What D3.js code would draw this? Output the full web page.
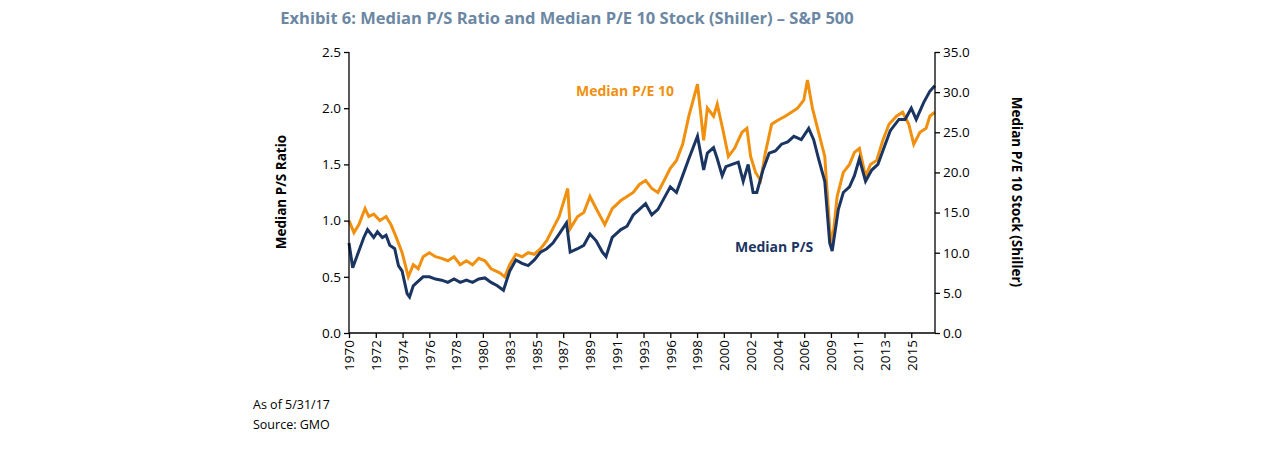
<!DOCTYPE html><html><head><meta charset="utf-8"><script src="https://d3js.org/d3.v7.min.js"></script>
<style>body{margin:0;background:#fff;font-family:"Open Sans",sans-serif}</style></head><body><svg id="c" width="1275" height="449"></svg>
<script>
const psYears=[1970.0,1970.3,1970.7,1971.2,1971.5,1972.0,1972.3,1972.7,1973.0,1973.3,1973.7,1974.0,1974.3,1974.7,1974.9,1975.2,1975.5,1976.0,1976.5,1977,1977.5,1978,1978.5,1979,1979.5,1980,1980.5,1981,1981.5,1982.0,1982.5,1983.0,1983.5,1984.0,1984.5,1985.0,1985.5,1986.0,1986.5,1987.0,1987.6,1987.9,1988.5,1989.0,1989.5,1990.0,1990.5,1990.8,1991.3,1992,1992.5,1993,1993.5,1994,1994.5,1995,1995.5,1996,1996.5,1997,1997.5,1998.2,1998.7,1999.0,1999.5,1999.8,2000.2,2000.5,2001.0,2001.5,2001.9,2002.3,2002.7,2003.0,2003.5,2004.0,2004.5,2005.0,2005.5,2006.0,2006.6,2007.2,2007.6,2008.0,2008.5,2008.9,2009.1,2009.6,2010.0,2010.5,2010.9,2011.3,2011.8,2012.3,2012.8,2013.3,2013.8,2014.5,2015.0,2015.5,2015.9,2016.5,2017.0,2017.4];
const psValues=[0.8,0.58,0.7,0.85,0.92,0.85,0.9,0.85,0.87,0.78,0.75,0.6,0.55,0.35,0.32,0.42,0.45,0.5,0.5,0.48,0.47,0.45,0.48,0.45,0.47,0.45,0.48,0.49,0.45,0.42,0.38,0.55,0.65,0.62,0.6,0.65,0.72,0.75,0.8,0.88,0.98,0.72,0.75,0.78,0.88,0.82,0.72,0.68,0.85,0.92,0.95,1.05,1.1,1.15,1.05,1.1,1.2,1.3,1.25,1.4,1.55,1.75,1.45,1.6,1.65,1.55,1.4,1.48,1.5,1.52,1.35,1.5,1.25,1.25,1.45,1.6,1.62,1.68,1.7,1.75,1.72,1.82,1.72,1.55,1.35,0.8,0.73,1.1,1.25,1.3,1.4,1.55,1.35,1.45,1.5,1.65,1.8,1.9,1.9,2.0,1.9,2.05,2.15,2.2];
const peYears=[1970.0,1970.4,1970.8,1971.3,1971.6,1972.0,1972.5,1973.0,1973.4,1973.8,1974.3,1974.8,1975.2,1975.6,1976.0,1976.5,1977,1977.5,1978,1978.5,1979,1979.5,1980.0,1980.5,1981.0,1981.5,1982.2,1982.6,1983.0,1983.5,1984,1984.5,1985,1985.5,1986,1986.5,1987.0,1987.7,1987.9,1988.5,1989.0,1989.5,1990.0,1990.7,1991.3,1992,1993,1993.5,1994,1994.5,1995,1995.5,1996,1996.5,1997,1997.5,1998.2,1998.7,1999.0,1999.5,1999.8,2000.3,2000.7,2001.2,2001.8,2002.2,2002.5,2002.9,2003.3,2003.7,2004.2,2004.7,2005.3,2005.8,2006.3,2006.8,2007.1,2007.5,2008.0,2008.5,2008.9,2009.1,2009.5,2010.0,2010.5,2010.9,2011.3,2011.8,2012.2,2012.7,2013.2,2013.7,2014.3,2014.8,2015.3,2015.7,2016.2,2016.7,2017.0,2017.4];
const peValues=[14,12.5,13.5,15.5,14.5,14.8,14,14.5,13.5,12,10,7,8.5,8,9.5,10,9.5,9.3,9,9.5,8.5,9,8.5,9.3,9,8,7.5,7,8.5,9.8,9.5,10,9.8,10.5,11.5,13,14.5,18,13,14.5,15,17,15.5,13.5,15.5,16.5,17.5,18.5,19,18,17.5,19,20.5,21.5,23.5,27,31,24,28,27,28.5,25,22,23,25,25.5,22,20,19,22.5,26,26.5,27,27.5,28,29,31.5,28,25,22,13,11,17,20,21,22.5,23,19.5,21,21.5,24,26,27,27.5,26,23.5,25,25.5,27,27.5];
const tickLabels=["1970","1972","1974","1976","1978","1980","1983","1985","1987","1989","1991","1993","1996","1998","2000","2002","2004","2006","2009","2011","2013","2015"];
const leftTicks=[0,0.5,1,1.5,2,2.5], rightTicks=[0,5,10,15,20,25,30,35];

const svg=d3.select("#c");
const x=d3.scaleLinear().domain([1970,2017.42]).range([349,935]);
const yL=d3.scaleLinear().domain([0,2.5]).range([333,52]);
const yR=d3.scaleLinear().domain([0,35]).range([333,52]);
const font="'Open Sans',sans-serif";
svg.append("text").attr("x",567).attr("y",24).attr("text-anchor","middle").attr("font-size",16.5).attr("font-weight","bold").attr("fill","#6b87a3").attr("font-family",font).text("Exhibit 6: Median P/S Ratio and Median P/E 10 Stock (Shiller) – S&P 500");
const ln=d3.line().x(d=>x(d[0])).y(d=>d[1]);
svg.append("path").datum(peYears.map((t,i)=>[t,yR(peValues[i])])).attr("d",ln).attr("fill","none").attr("stroke","#f0900e").attr("stroke-width",3);
svg.append("path").datum(psYears.map((t,i)=>[t,yL(psValues[i])])).attr("d",ln).attr("fill","none").attr("stroke","#1b3562").attr("stroke-width",3);
const gL=svg.append("g").attr("transform","translate(349,0)").call(d3.axisLeft(yL).tickValues(leftTicks).tickFormat(d3.format(".1f")).tickSize(5));
const gR=svg.append("g").attr("transform","translate(935,0)").call(d3.axisRight(yR).tickValues(rightTicks).tickFormat(d3.format(".1f")).tickSize(5));
const tickPos=tickLabels.map((l,i)=>1970+i*26/12);
const gX=svg.append("g").attr("transform","translate(0,333)").call(d3.axisBottom(x).tickValues(tickPos).tickFormat((d,i)=>tickLabels[i]).tickSize(5));
[gL,gR,gX].forEach(g=>{g.selectAll("path,line").attr("stroke","#000").attr("stroke-width",1.3);g.selectAll("text").attr("font-size",13.5).attr("font-family",font).attr("fill","#000");});
gX.select(".domain").attr("d","M349,0H935");
gX.selectAll("text").attr("transform","rotate(-90)").attr("text-anchor","end").attr("x",-7).attr("y",0).attr("dy","0.35em");
gL.selectAll(".domain").attr("d","M0,52V333");gR.selectAll(".domain").attr("d","M0,52V333");
svg.append("text").attr("transform","translate(286,192) rotate(-90)").attr("text-anchor","middle").attr("font-size",13.5).attr("font-weight","bold").attr("font-family",font).text("Median P/S Ratio");
svg.append("text").attr("transform","translate(1012,192) rotate(90)").attr("text-anchor","middle").attr("font-size",13.5).attr("font-weight","bold").attr("font-family",font).text("Median P/E 10 Stock (Shiller)");
svg.append("text").attr("x",576).attr("y",96).attr("font-size",14).attr("font-weight","bold").attr("fill","#f0900e").attr("font-family",font).text("Median  P/E 10");
svg.append("text").attr("x",735).attr("y",252).attr("font-size",14).attr("font-weight","bold").attr("fill","#1b3562").attr("font-family",font).text("Median  P/S");
svg.append("text").attr("x",253).attr("y",409).attr("font-size",12.5).attr("font-family",font).text("As of 5/31/17");
svg.append("text").attr("x",253).attr("y",429).attr("font-size",12.5).attr("font-family",font).text("Source: GMO");
</script></body></html>
